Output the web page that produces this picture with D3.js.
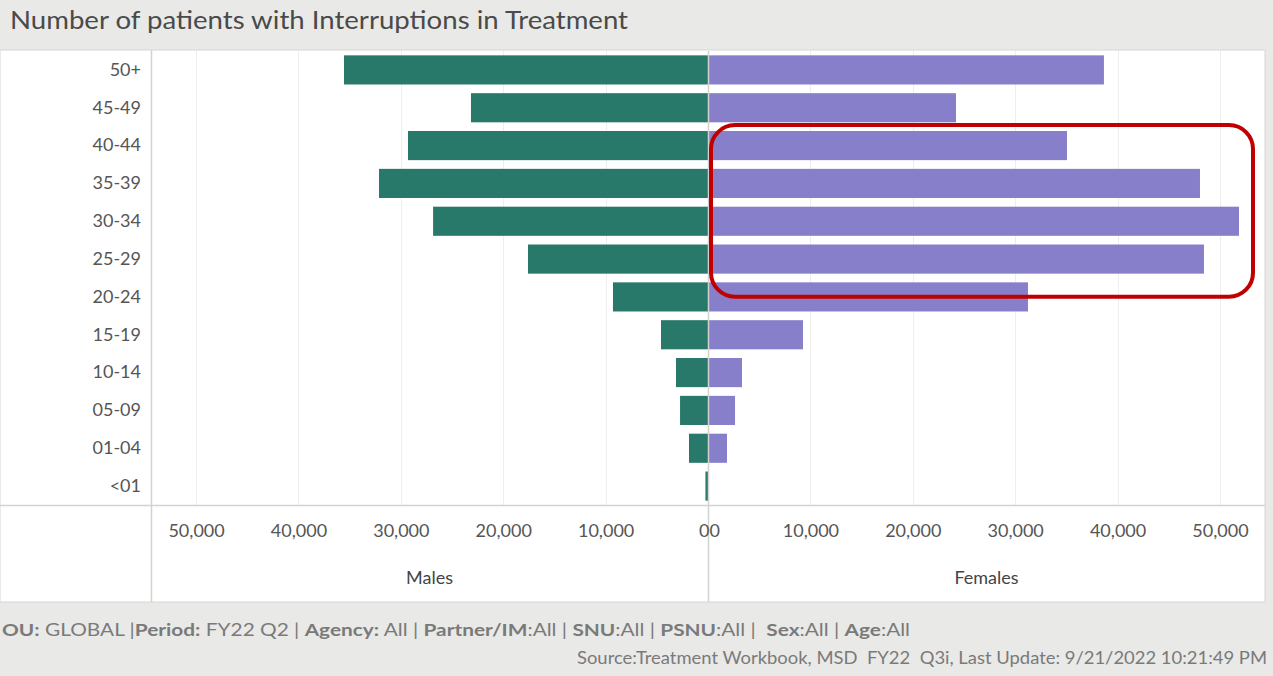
<!DOCTYPE html>
<html>
<head>
<meta charset="utf-8">
<script src="https://cdn.jsdelivr.net/npm/d3@7"></script>
<style>
  html, body { margin: 0; padding: 0; background: #e9e9e7; }
  svg { display: block; }
  text { font-family: Lato, "Open Sans", sans-serif; }
</style>
</head>
<body>
<svg id="chart" width="1273" height="676"></svg>
<script>
// Age bands, top to bottom
const ageGroups = ["50+", "45-49", "40-44", "35-39", "30-34", "25-29", "20-24", "15-19", "10-14", "05-09", "01-04", "<01"];
// Patients with interruptions in treatment, by sex
const males   = [35550, 23150, 29300, 32130, 26850, 17580, 9280, 4590, 3125, 2730, 1855, 250];
const females = [38670, 24220, 35060, 48050, 51860, 48440, 31250, 9280, 3320, 2640, 1855, 0];
// Axis ticks
const tickValues = [0, 10000, 20000, 30000, 40000, 50000];
// Age bands called out with a frame
const highlighted = ["40-44", "25-29"];

const W = 1273, H = 676;
const panel = { left: 0, right: 1265, top: 50, bottom: 602 };
const plot = { left: 151, zero: 708, right: 1265, top: 51, bottom: 505 };
const axisMax = 54400;

const svg = d3.select("#chart");

// Title
const title = svg.append("text")
  .attr("x", 10).attr("y", 29)
  .attr("fill", "#4a4a4a")
  .attr("font-size", 25)
  .text("Number of patients with Interruptions in Treatment");
title.attr("textLength", 618).attr("lengthAdjust", "spacingAndGlyphs");

// White chart panel
svg.append("rect")
  .attr("x", panel.left).attr("y", panel.top)
  .attr("width", panel.right - panel.left).attr("height", panel.bottom - panel.top)
  .attr("fill", "#ffffff")
  .attr("stroke", "#d6d6d4").attr("stroke-width", 1);

// Scales
const xMale = d3.scaleLinear().domain([0, axisMax]).range([plot.zero, plot.left]);
const xFemale = d3.scaleLinear().domain([0, axisMax]).range([plot.zero, plot.right]);
const y = d3.scaleBand().domain(ageGroups).range([plot.top, plot.bottom]).paddingInner(0.23).paddingOuter(0.115);

// Gridlines
const grid = svg.append("g").attr("stroke", "#eeeeee").attr("stroke-width", 1);
tickValues.filter(d => d > 0).forEach(v => {
  [xMale(v), xFemale(v)].forEach(x => {
    grid.append("line")
      .attr("x1", Math.round(x) + 0.5).attr("x2", Math.round(x) + 0.5)
      .attr("y1", plot.top).attr("y2", plot.bottom);
  });
});

// Bars
svg.append("g").selectAll("rect")
  .data(ageGroups.map((g, i) => ({ g, v: males[i] })))
  .join("rect")
  .attr("x", d => xMale(d.v))
  .attr("y", d => y(d.g))
  .attr("width", d => plot.zero - xMale(d.v))
  .attr("height", y.bandwidth())
  .attr("fill", "#28796a");

svg.append("g").selectAll("rect")
  .data(ageGroups.map((g, i) => ({ g, v: females[i] })))
  .join("rect")
  .attr("x", plot.zero)
  .attr("y", d => y(d.g))
  .attr("width", d => xFemale(d.v) - plot.zero)
  .attr("height", y.bandwidth())
  .attr("fill", "#877fca");

// Structural lines
svg.append("line")
  .attr("x1", plot.left + 0.5).attr("x2", plot.left + 0.5)
  .attr("y1", panel.top).attr("y2", panel.bottom)
  .attr("stroke", "#d2d2d0").attr("stroke-width", 1.5);
svg.append("line")
  .attr("x1", plot.zero + 0.5).attr("x2", plot.zero + 0.5)
  .attr("y1", plot.top).attr("y2", panel.bottom)
  .attr("stroke", "#d2d2d0").attr("stroke-width", 1.5);
svg.append("line")
  .attr("x1", panel.left).attr("x2", panel.right)
  .attr("y1", plot.bottom + 0.5).attr("y2", plot.bottom + 0.5)
  .attr("stroke", "#d2d2d0").attr("stroke-width", 1.5);

// Age axis
const yAxis = svg.append("g")
  .attr("transform", `translate(${plot.left - 10},0)`)
  .call(d3.axisLeft(y).tickSize(0).tickPadding(0));
yAxis.select(".domain").remove();
yAxis.selectAll("text")
  .attr("font-family", "Lato, sans-serif")
  .attr("font-size", 18)
  .attr("fill", "#555555");

// Value axes
const fmt = d3.format(",");
function styleAxis(g, zeroAnchor) {
  g.select(".domain").remove();
  g.selectAll("text")
    .attr("font-family", "Lato, sans-serif")
    .attr("font-size", 18)
    .attr("fill", "#555555")
    .attr("dy", "0.71em");
  g.selectAll(".tick").filter(d => d === 0).select("text")
    .attr("text-anchor", zeroAnchor)
    .attr("x", 1);
}
const maleAxis = svg.append("g")
  .attr("transform", `translate(0,${plot.bottom + 19})`)
  .call(d3.axisBottom(xMale).tickValues(tickValues).tickFormat(fmt).tickSize(0).tickPadding(0));
styleAxis(maleAxis, "end");
const femaleAxis = svg.append("g")
  .attr("transform", `translate(0,${plot.bottom + 19})`)
  .call(d3.axisBottom(xFemale).tickValues(tickValues).tickFormat(fmt).tickSize(0).tickPadding(0));
styleAxis(femaleAxis, "start");

// Axis titles
svg.append("text")
  .attr("x", (plot.left + plot.zero) / 2).attr("y", 584)
  .attr("text-anchor", "middle").attr("font-size", 18).attr("fill", "#444444")
  .text("Males");
svg.append("text")
  .attr("x", (plot.zero + plot.right) / 2).attr("y", 584)
  .attr("text-anchor", "middle").attr("font-size", 18).attr("fill", "#444444")
  .text("Females");

// Callout frame around the highlighted female bands
const yTop = y(highlighted[0]);
const yBot = y(highlighted[1]) + y.bandwidth();
svg.append("rect")
  .attr("x", plot.zero + 3).attr("y", yTop - 6)
  .attr("width", 1253 - (plot.zero + 3)).attr("height", (yBot + 23) - (yTop - 6))
  .attr("rx", 24).attr("ry", 24)
  .attr("fill", "none")
  .attr("stroke", "#c00000").attr("stroke-width", 4);

// Filter summary
const filters = [
  ["OU:", " GLOBAL |"], ["Period:", " FY22 Q2 | "], ["Agency:", " All | "],
  ["Partner/IM", ":All | "], ["SNU", ":All | "], ["PSNU", ":All |  "],
  ["Sex", ":All | "], ["Age", ":All"]
];
const f1 = svg.append("text")
  .attr("x", 2).attr("y", 636)
  .attr("font-size", 17).attr("fill", "#7a7a7a")
  .style("white-space", "pre");
filters.forEach(([k, v]) => {
  f1.append("tspan").attr("font-weight", "bold").text(k);
  f1.append("tspan").text(v);
});
f1.attr("textLength", 908).attr("lengthAdjust", "spacingAndGlyphs");

svg.append("text")
  .attr("x", 1267).attr("y", 664)
  .attr("text-anchor", "end")
  .attr("font-size", 17).attr("fill", "#7a7a7a")
  .style("white-space", "pre")
  .text("Source:Treatment Workbook, MSD  FY22  Q3i, Last Update: 9/21/2022 10:21:49 PM")
  .attr("textLength", 690).attr("lengthAdjust", "spacingAndGlyphs");
</script>
</body>
</html>
